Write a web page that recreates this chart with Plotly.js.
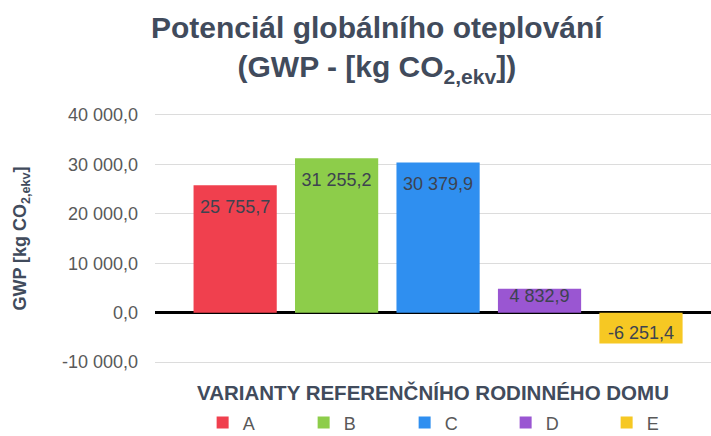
<!DOCTYPE html>
<html><head><meta charset="utf-8">
<script src="https://cdn.plot.ly/plotly-3.0.1.min.js"></script>
<style>html,body{margin:0;padding:0;background:#fff}#chart{width:711px;height:436px}</style>
</head><body><div id="chart"></div>
<script>
const categories = ['A','B','C','D','E'];
const values = [25755.7, 31255.2, 30379.9, 4832.9, -6251.4];
const labels = ['25 755,7','31 255,2','30 379,9','4 832,9','-6 251,4'];
const colors = ['#f0404e','#8dcd4a','#2f8ff0','#9a56d2','#f6c823'];
const tickValues = [-10000, 0, 10000, 20000, 30000, 40000];
const tickLabels = ['-10 000,0','0,0','10 000,0','20 000,0','30 000,0','40 000,0'];

const FONT = 'Liberation Sans, Arial, sans-serif';

const traces = categories.map((c, i) => ({
  type: 'bar', name: c, x: [c], y: [values[i]],
  marker: {color: colors[i]}, width: 0.82, hoverinfo: 'skip'
}));
// data labels placed inside each bar end
traces.push({
  type: 'scatter', mode: 'markers+text', x: categories, y: values, text: labels,
  textposition: ['bottom center','bottom center','bottom center','bottom center','top center'],
  marker: {size: [21, 21, 21, 0, 0], opacity: 0},
  textfont: {family: FONT, size: 18, color: '#3d4350'},
  showlegend: false, hoverinfo: 'skip', cliponaxis: false
});

const layout = {
  width: 711, height: 436,
  margin: {l: 155, r: 0, t: 110, b: 69},
  paper_bgcolor: '#fff', plot_bgcolor: '#fff',
  separators: ', ',
  barmode: 'overlay',
  font: {family: FONT, color: '#595959'},
  title: {
    text: '<b>Potenciál globálního oteplování<br>(GWP - [kg CO<sub>2,ekv</sub>])</b>',
    font: {size: 30, color: '#414b5c', family: FONT},
    x: 0.53, xref: 'container', y: 0.912, yref: 'container', yanchor: 'middle'
  },
  xaxis: {
    type: 'category', range: [-0.79, 4.69], showticklabels: false,
    showgrid: false, zeroline: false, showline: false, ticks: '',
    title: {text: '<b>VARIANTY REFERENČNÍHO RODINNÉHO DOMU</b>',
      font: {size: 20.5, color: '#414b5c'}, standoff: 30}
  },
  yaxis: {
    range: [-11000, 41000], tickvals: tickValues, ticktext: tickLabels,
    tickfont: {size: 18, color: '#595959'}, ticklabelstandoff: 16,
    gridcolor: '#dcdcdc', gridwidth: 1,
    zeroline: true, zerolinecolor: '#000', zerolinewidth: 2.5,
    ticks: '', ticklen: 0, showline: false,
    title: {text: '<b>GWP [kg CO<sub>2,ekv</sub>]</b>', font: {size: 18, color: '#414b5c'}, standoff: 30}
  },
  showlegend: true,
  legend: {
    orientation: 'h', xref: 'container', yref: 'container',
    x: 0.285, xanchor: 'left', y: 0.03, yanchor: 'middle',
    entrywidth: 56, entrywidthmode: 'pixels', itemwidth: 30,
    font: {size: 18, color: '#595959'}, traceorder: 'normal'
  }
};
Plotly.newPlot('chart', traces, layout, {staticPlot: true, displayModeBar: false});
</script></body></html>
